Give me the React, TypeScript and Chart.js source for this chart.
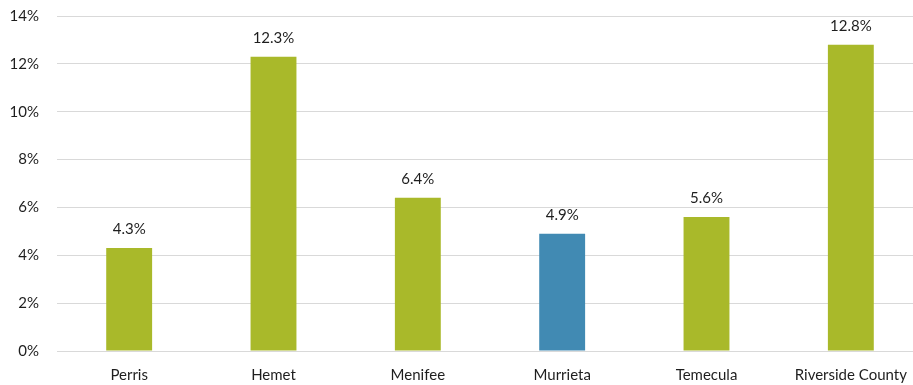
import React, { useEffect, useRef } from "react";
import { Chart, registerables } from "chart.js";

Chart.register(...registerables);

const categories = ["Perris", "Hemet", "Menifee", "Murrieta", "Temecula", "Riverside County"];
const values = [4.3, 12.3, 6.4, 4.9, 5.6, 12.8];
const barColors = ["#A9B92A", "#A9B92A", "#A9B92A", "#418AB3", "#A9B92A", "#A9B92A"];
const yTicks = [0, 2, 4, 6, 8, 10, 12, 14];

const FONT = "Lato, 'Open Sans', sans-serif";
const TEXT = "#1E1E1E";

const labelPlugin = {
  id: "valueLabels",
  afterDatasetsDraw(chart: any) {
    const ctx = chart.ctx;
    const meta = chart.getDatasetMeta(0);
    ctx.save();
    ctx.fillStyle = TEXT;
    ctx.font = `15px ${FONT}`;
    ctx.textAlign = "center";
    ctx.textBaseline = "middle";
    meta.data.forEach((bar: any, i: number) => {
      ctx.fillText(values[i].toFixed(1) + "%", bar.x, bar.y - 19);
    });
    ctx.restore();
  },
};

export default function App() {
  const ref = useRef<HTMLCanvasElement>(null);
  useEffect(() => {
    document.body.style.margin = "0";
    document.body.style.overflow = "hidden";
    const chart = new Chart(ref.current!, {
      type: "bar",
      data: {
        labels: categories,
        datasets: [
          {
            data: values,
            backgroundColor: barColors,
            categoryPercentage: 1,
            barPercentage: 0.318,
          },
        ],
      },
      options: {
        animation: false,
        responsive: false,
        maintainAspectRatio: false,
        layout: { padding: { top: 16, right: 2, left: 0, bottom: 0 } },
        plugins: { legend: { display: false }, tooltip: { enabled: false } },
        scales: {
          x: {
            grid: { display: false },
            border: { display: false },
            ticks: { color: TEXT, font: { family: FONT, size: 15 }, padding: 7, maxRotation: 0, autoSkip: false },
            afterFit(scale: any) {
              scale.height = 34;
              scale.paddingLeft = 0;
              scale.paddingRight = 0;
            },
          },
          y: {
            min: 0,
            max: 14,
            afterBuildTicks(scale: any) {
              scale.ticks = yTicks.map((v) => ({ value: v }));
            },
            grid: { color: "#D9D9D9", lineWidth: 1, drawTicks: false },
            border: { display: false },
            ticks: {
              color: TEXT,
              font: { family: FONT, size: 15 },
              padding: 18,
              callback: (v: any) => v + "%",
            },
            afterFit(scale: any) {
              scale.width = 57;
              scale.paddingTop = 0;
              scale.paddingBottom = 0;
            },
          },
        },
      },
      plugins: [labelPlugin],
    });
    return () => chart.destroy();
  }, []);
  return (
    <div style={{ width: 913, height: 385, overflow: "hidden" }}>
      <canvas ref={ref} width={925} height={385} style={{ display: "block" }} />
    </div>
  );
}
